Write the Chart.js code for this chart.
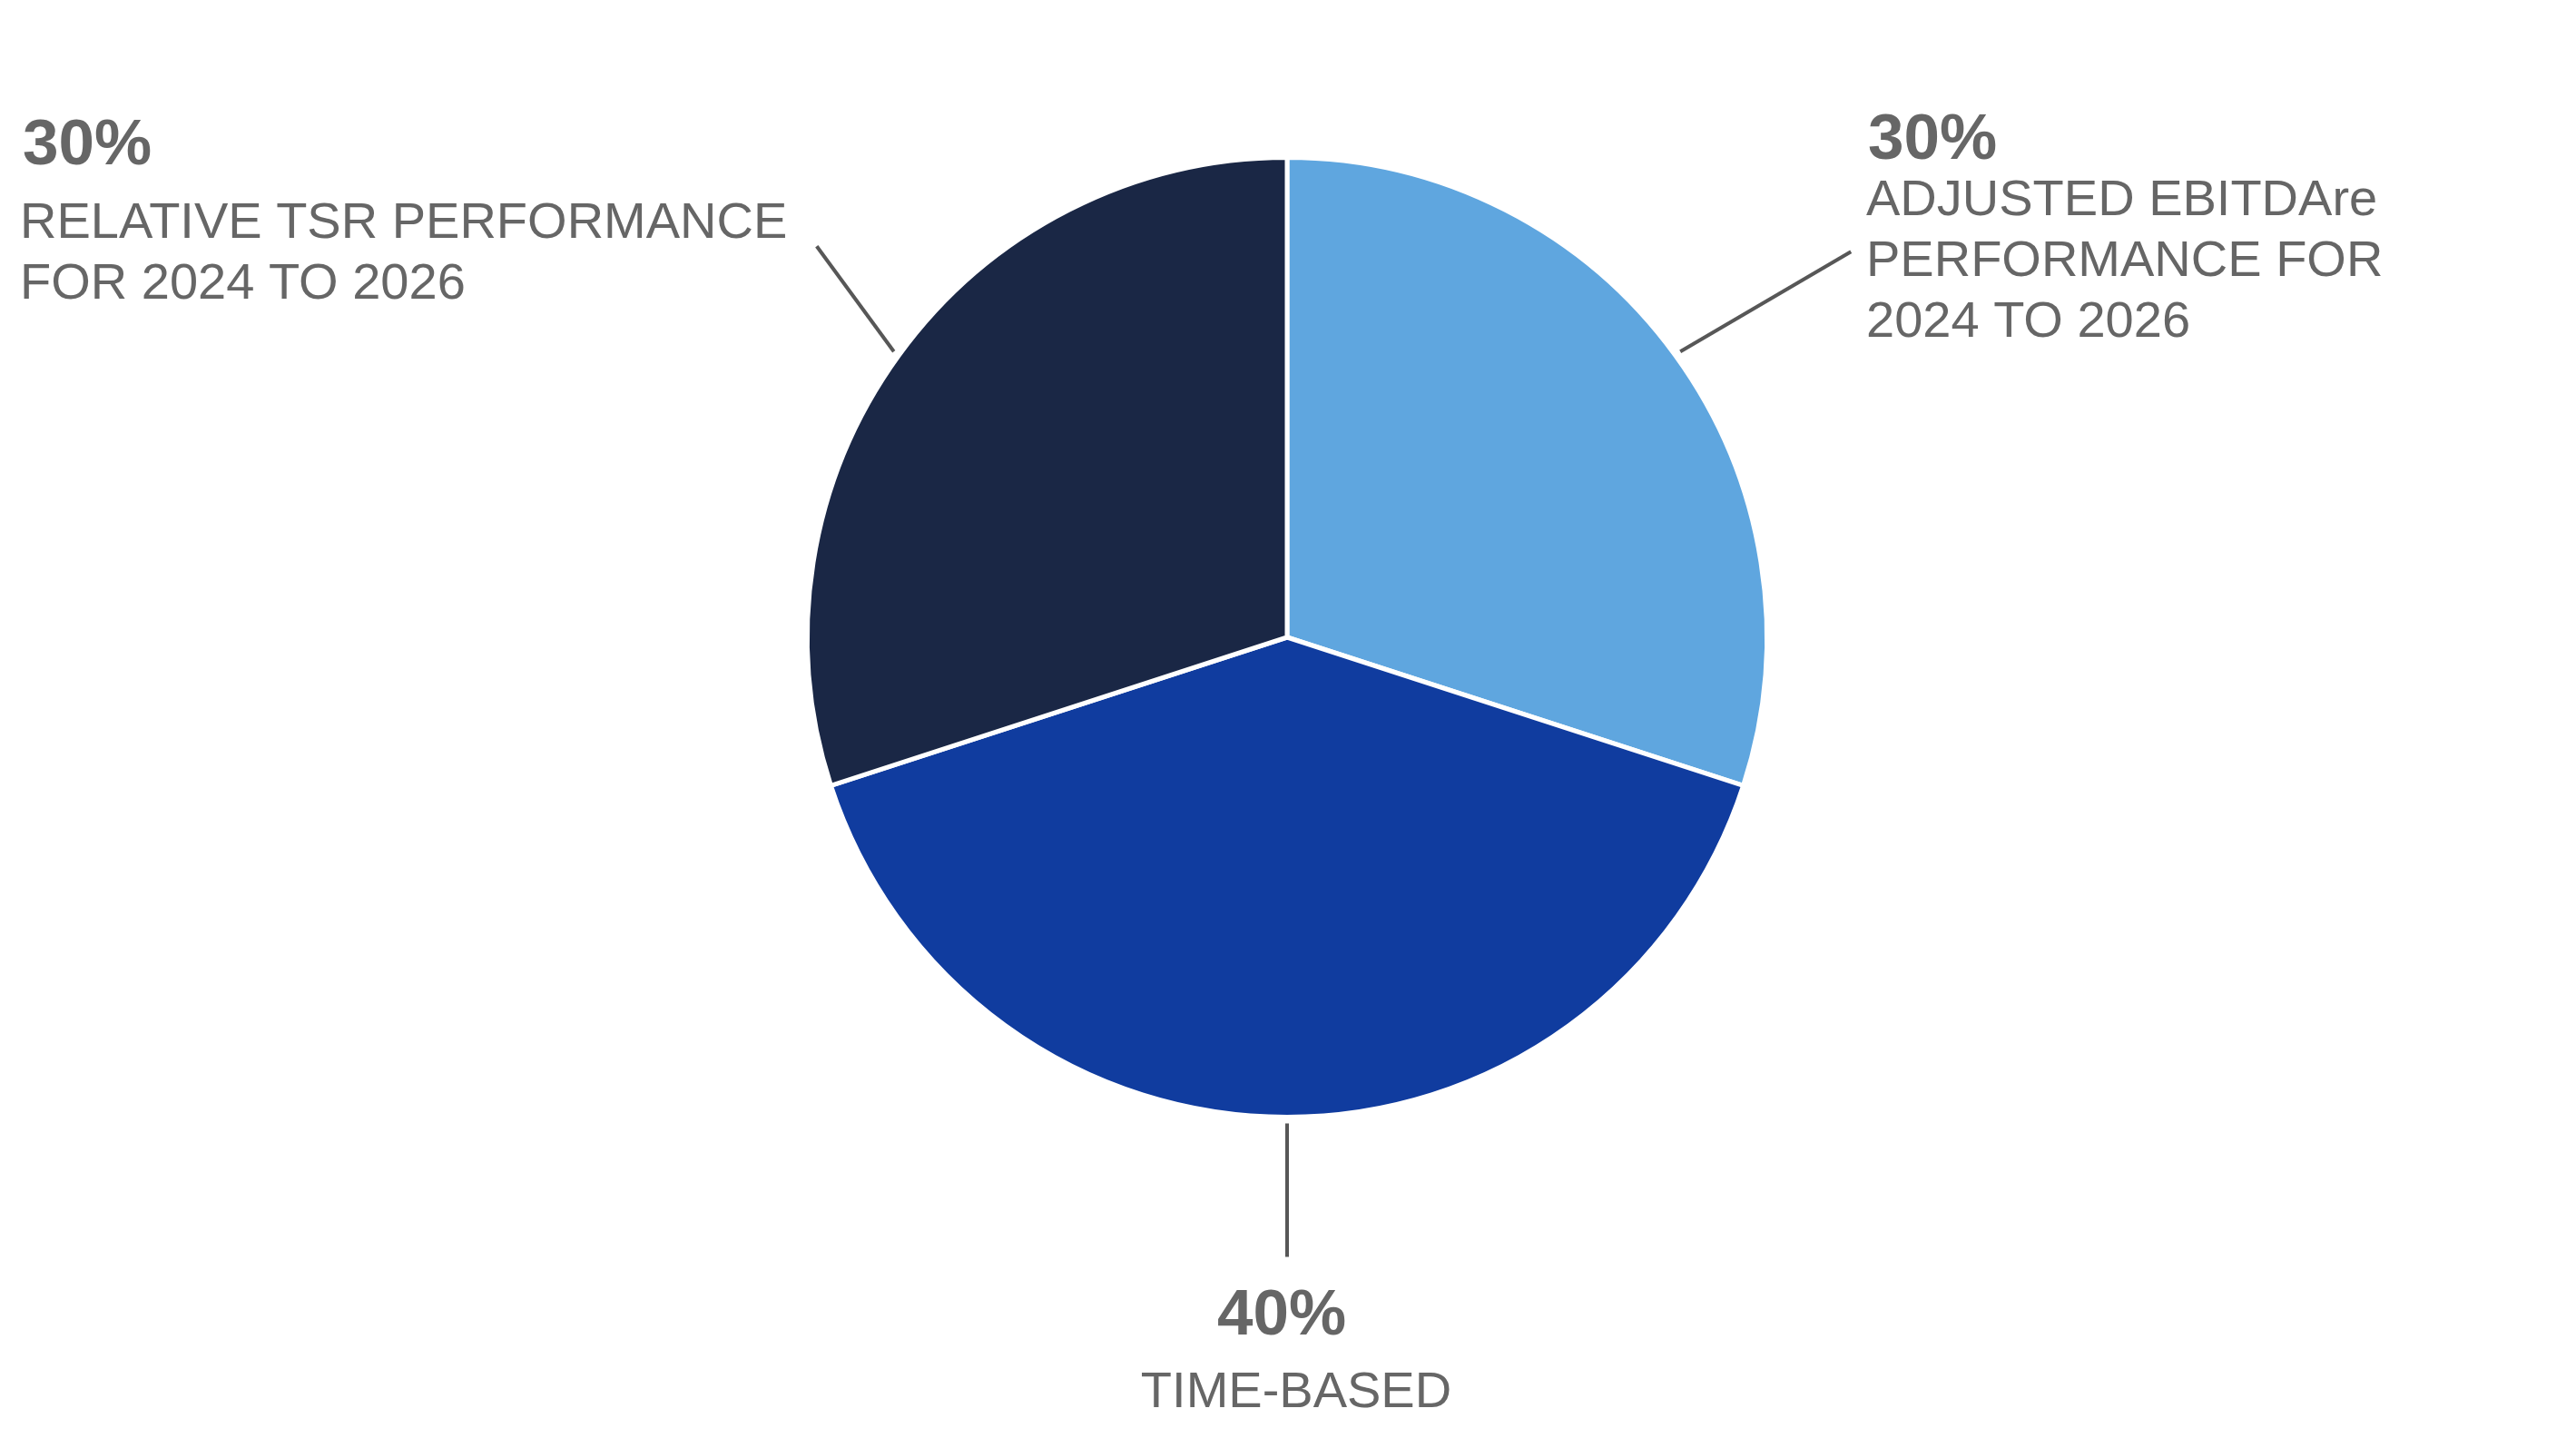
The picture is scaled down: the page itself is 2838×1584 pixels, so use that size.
<!DOCTYPE html>
<html>
<head>
<meta charset="utf-8">
<script src="https://cdn.jsdelivr.net/npm/chart.js@4.4.0/dist/chart.umd.min.js"></script>
<style>
  html, body { margin: 0; padding: 0; background: #fff; }
  #wrap { width: 2838px; height: 1584px; position: relative; }
</style>
</head>
<body>
<div id="wrap"><canvas id="awardChart"></canvas></div>
<script>
// slices, clockwise from 12 o'clock
const categories = ['ADJUSTED EBITDAre PERFORMANCE FOR 2024 TO 2026', 'TIME-BASED', 'RELATIVE TSR PERFORMANCE FOR 2024 TO 2026'];
const shares = [30, 40, 30];
const labelLines = [
    ['ADJUSTED EBITDAre', 'PERFORMANCE FOR', '2024 TO 2026'],
    ['TIME-BASED'],
    ['RELATIVE TSR PERFORMANCE', 'FOR 2024 TO 2026']
];

const sliceColors = ['#5fa6df', '#103c9f', '#1a2745'];
const textColor = '#666666';
const lineColor = '#575757';

// leader line: offset from the point just outside the arc; text block placement
const callouts = [
    { lead: [188, -110], pctX: 2058, pctY: 175, align: 'left', textX: 2056, textY: 237 },
    { lead: [0, 147], pctX: 1412, pctY: 1470, align: 'center', textX: 1428, textY: 1550 },
    { lead: [-85, -116], pctX: 25, pctY: 181, align: 'left', textX: 22, textY: 262 }
];

const calloutPlugin = {
    id: 'callouts',
    afterDatasetsDraw(chart) {
        const ctx = chart.ctx;
        const meta = chart.getDatasetMeta(0);
        meta.data.forEach(function(arc, i) {
            const p = arc.getProps(['x', 'y', 'startAngle', 'endAngle', 'outerRadius'], true);
            const mid = (p.startAngle + p.endAngle) / 2;
            const r = p.outerRadius + 7;
            const sx = p.x + Math.cos(mid) * r;
            const sy = p.y + Math.sin(mid) * r;
            const c = callouts[i];
            ctx.save();
            ctx.strokeStyle = lineColor;
            ctx.lineWidth = 4;
            ctx.beginPath();
            ctx.moveTo(sx, sy);
            ctx.lineTo(sx + c.lead[0], sy + c.lead[1]);
            ctx.stroke();

            ctx.fillStyle = textColor;
            ctx.textAlign = c.align;
            ctx.textBaseline = 'alphabetic';
            ctx.font = 'bold 71px "Liberation Sans", Arial, sans-serif';
            ctx.fillText(shares[i] + '%', c.pctX, c.pctY);
            ctx.font = '56px "Liberation Sans", Arial, sans-serif';
            labelLines[i].forEach(function(line, k) {
                ctx.fillText(line, c.textX, c.textY + k * 67);
            });
            ctx.restore();
        });
    }
};

new Chart(document.getElementById('awardChart'), {
    type: 'pie',
    data: {
        labels: categories,
        datasets: [{
            data: shares,
            backgroundColor: sliceColors,
            borderColor: '#ffffff',
            borderWidth: 5
        }]
    },
    options: {
        responsive: true,
        maintainAspectRatio: false,
        animation: false,
        layout: {
            padding: { top: 171, bottom: 351, left: 0, right: 2 }
        },
        plugins: {
            legend: { display: false },
            tooltip: { enabled: false }
        }
    },
    plugins: [calloutPlugin]
});
</script>
</body>
</html>
